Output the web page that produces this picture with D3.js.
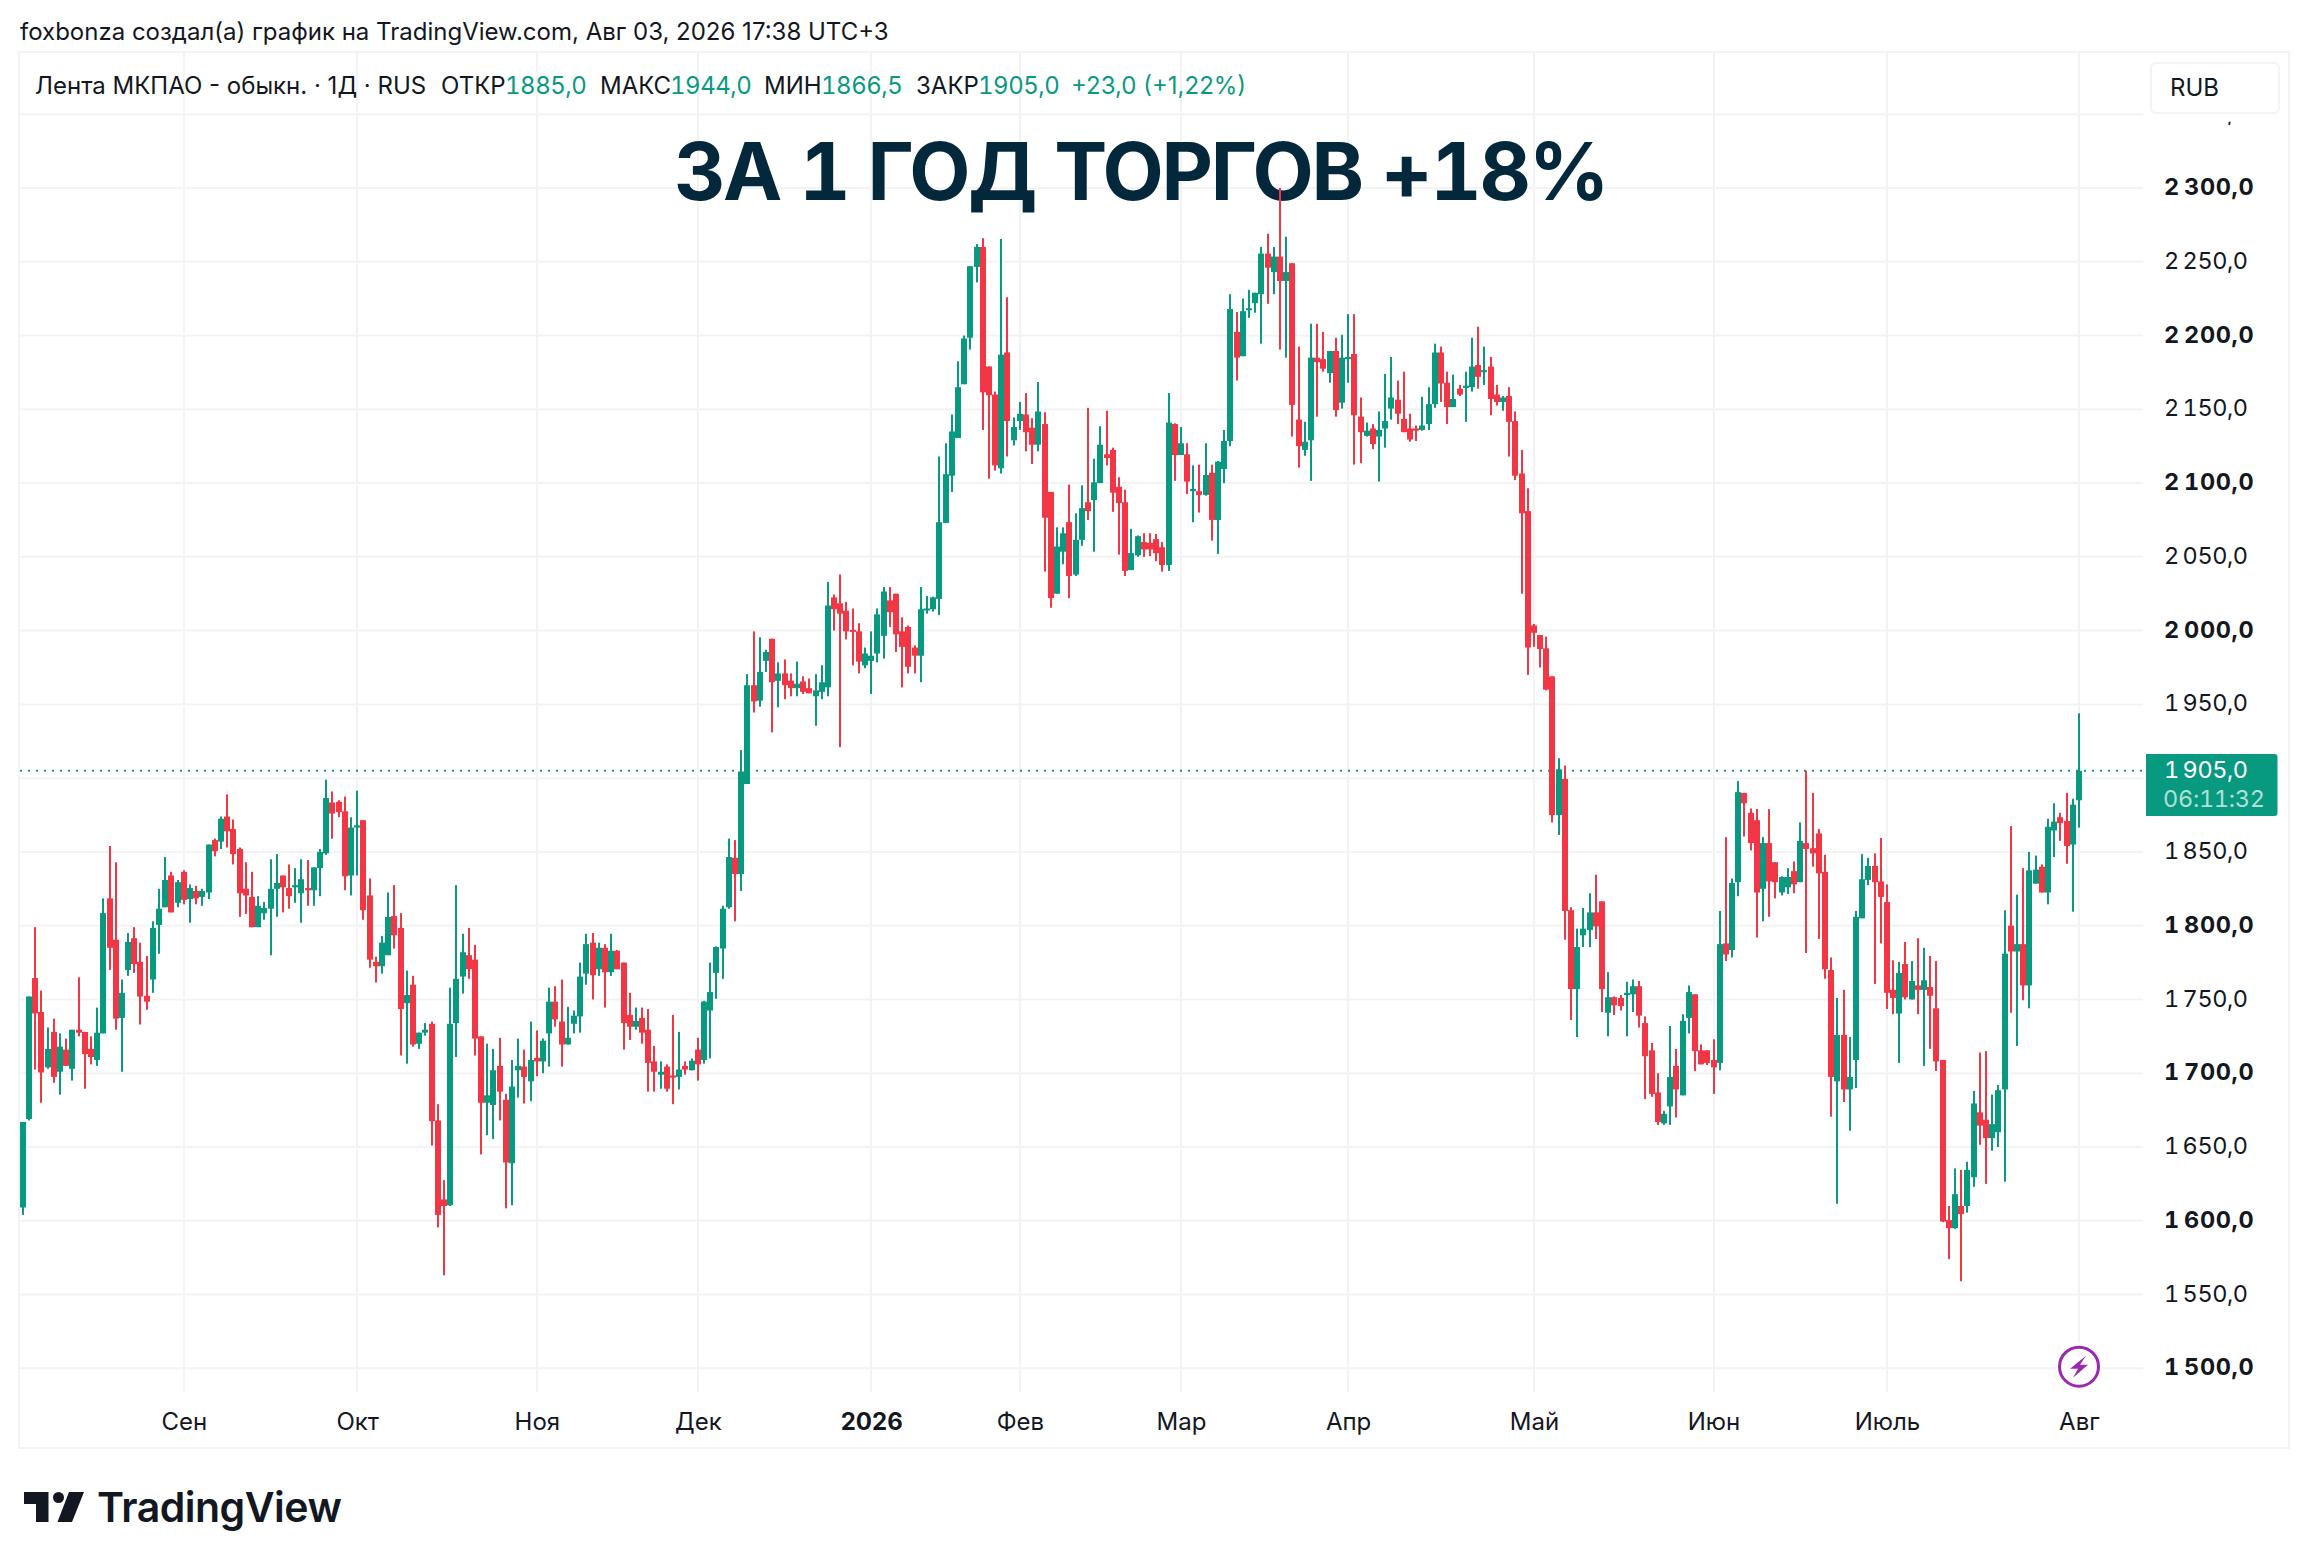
<!DOCTYPE html>
<html>
<head>
<meta charset="utf-8">
<script src="https://cdnjs.cloudflare.com/ajax/libs/d3/7.8.5/d3.min.js"></script>
<style>
html, body { margin: 0; padding: 0; background: #fff; }
svg { display: block; }
text { font-family: Inter, "Noto Sans", sans-serif; fill: #131722; }
.axis text { font-size: 24px; }
.price text, .tag { font-size: 23.5px; font-variant-numeric: tabular-nums; }
.up { fill: #089981; }
.down { fill: #F23645; }
</style>
</head>
<body>
<script>
// daily bars per month, each row is [open, high, low, close]
const aug25 = [
  [1609,1667,1604,1667],[1669,1752,1668,1752],[1764.5,1799,1702.5,1740.5],[1741.5,1756,1680,1700.5],[1704,1731,1703,1716.5],
  [1728,1737,1693.5,1697.5],[1701,1727,1685.5,1718],[1716,1723.5,1705,1705],[1703,1729.5,1695,1729.5],[1729.5,1765,1725,1727.5],
  [1728,1728,1689.5,1713],[1716.5,1725,1706,1711],[1709,1744.5,1705,1727.5],[1727,1818.5,1727,1808.5],[1818.5,1854,1770,1785],
  [1790.5,1843,1729.5,1737],[1737.5,1763.5,1701,1754.5],[1770,1795,1766,1789],[1791.5,1799,1768,1774],[1775.5,1788.5,1733,1752],
  [1752.5,1779.5,1743,1748.5],[1763.5,1803,1754.5,1798.5],[1800.5,1825,1781,1811.5],[1812.5,1846.5,1812.5,1831],[1834,1836.5,1809,1809],
  [1815.5,1831,1812.5,1829.5]
];
const sep25 = [
  [1836.5,1837.5,1814.5,1817.5],[1818,1828,1802,1825.5],[1823.5,1827,1814.5,1818.5],[1819.5,1825,1813.5,1823.5],[1822.5,1855,1818,1855],
  [1858,1859,1847,1850.5],[1857,1874,1852,1872.5],[1874,1889,1853,1864],[1865.5,1872,1841.5,1848.5],[1852,1853,1806,1822],
  [1825,1843,1808,1820.5],[1819.5,1836.5,1799,1799],[1799,1820,1799,1813.5],[1808.5,1816,1804,1812],[1811.5,1845,1780,1825],
  [1825,1848.5,1806,1829],[1834,1834,1809,1826],[1825.5,1841.5,1811.5,1820],[1826,1839,1815.5,1827.5],[1822,1845,1802,1831.5],
  [1825.5,1844.5,1813.5,1824],[1824,1839.5,1813.5,1839.5],[1839,1852,1820,1850],[1849,1899,1848,1886.5],[1883.5,1891,1859,1876],
  [1884,1885,1873.5,1877],[1877.5,1887.5,1824,1833.5],[1834,1873.5,1820.5,1866.5]
];
const oct25 = [
  [1866.5,1891.5,1834,1868],[1871.5,1871.5,1804,1810.5],[1820.5,1832,1771.5,1777],[1775.5,1779,1761.5,1772.5],[1772.5,1793,1767.5,1788.5],
  [1780,1822.5,1780,1806],[1806.5,1827.5,1784.5,1793.5],[1798.5,1808.5,1712,1743.5],[1747.5,1769.5,1706.5,1753],[1760,1766,1718,1719.5],
  [1720,1727.5,1716.5,1727.5],[1727.5,1734,1725.5,1729.5],[1733.5,1735,1651,1667.5],[1668,1679,1595.5,1604],[1614.5,1627.5,1563,1610],
  [1610.5,1758,1610,1733.5],[1734,1827.5,1711,1764],[1765.5,1794.5,1754,1782],[1780,1798.5,1764,1770.5],[1777,1787,1712,1723.5],
  [1725,1725,1645,1680],[1680,1720,1658,1685],[1678.5,1716.5,1655.5,1702],[1705,1724,1668,1687.5],[1682,1686,1608.5,1639.5],
  [1639,1709,1610.5,1691],[1702,1723.5,1683.5,1705],[1704.5,1716,1679.5,1697.5],[1694.5,1735,1681,1709]
];
const nov25 = [
  [1710.5,1729,1698,1708],[1708,1723.5,1700,1722],[1727,1758,1704.5,1748.5],[1748.5,1759,1731.5,1736.5],[1735,1763.5,1704.5,1719.5],
  [1719.5,1745,1719.5,1724],[1733.5,1742.5,1727,1739],[1738.5,1775,1727.5,1765.5],[1767.5,1794.5,1760,1787.5],[1788.5,1795,1750,1766.5],
  [1770.5,1788.5,1766,1785],[1785,1787.5,1744.5,1768.5],[1768.5,1794.5,1766,1783],[1783,1783.5,1770.5,1770.5],[1775,1775,1716,1734],
  [1739.5,1754.5,1722.5,1731.5],[1731.5,1744.5,1729.5,1735.5],[1737.5,1744.5,1720,1727.5],[1729.5,1743.5,1687.5,1707],[1708,1718.5,1687.5,1701],
  [1699,1708,1689.5,1701],[1704.5,1706,1687.5,1689.5],[1698.5,1739.5,1679,1697],[1697.5,1728,1689,1702.5],[1705,1708,1699,1702.5],
  [1702,1710,1702,1708.5]
];
const dec25 = [
  [1716,1724,1695,1706],[1709,1749,1706.5,1748.5],[1742.5,1775,1710,1755],[1768,1786,1750.5,1785.5],[1784.5,1813.5,1764,1811.5],
  [1812.5,1859,1811.5,1846.5],[1846,1858,1803,1835],[1835,1919,1823.5,1904.5],[1896,1970.5,1896,1963],[1963,1999.5,1944.5,1952],
  [1952.5,1995.5,1948.5,1972],[1979.5,1987,1972,1985.5],[1994.5,1994.5,1931,1965],[1966,1978.5,1948,1971],[1971,1980.5,1953.5,1963],
  [1966,1971,1955.5,1961],[1961,1979,1955.5,1964],[1965.5,1969,1957,1958.5],[1961,1967.5,1957.5,1957.5],[1955.5,1970.5,1935.5,1959.5],
  [1958.5,1976.5,1953.5,1965],[1961.5,2033,1955.5,2017],[2022.5,2024.5,2000,2014.5],[2018.5,2038,1921,2011.5],[2013.5,2019.5,1994,1999.5],
  [2000.5,2015,1976.5,1999.5],[1999.5,2005,1971,1979],[1976.5,1988.5,1974.5,1984.5]
];
const jan26 = [
  [1979.5,1999.5,1957,1983],[1984.5,2015,1978.5,2011],[1996.5,2029.5,1981,2026.5],[2020.5,2029.5,2002.5,2012.5],[2025,2025,1985.5,1997.5],
  [1999.5,2009,1961.5,1989],[2002.5,2003.5,1971,1975.5],[1988.5,1990,1971,1983],[1983,2029.5,1965,2014.5],[2014.5,2023.5,2011.5,2015],
  [2014.5,2023,2013,2022.5],[2021.5,2118,2010.5,2073.5],[2073,2127,2073,2106],[2105,2146.5,2094,2135],[2130.5,2182.5,2130.5,2165],
  [2167,2200,2167,2198],[2198.5,2247,2190.5,2247],[2246.5,2262,2236,2260],[2260,2266,2136,2161.5],[2179,2179,2103,2159.5],
  [2160,2162,2108.5,2112],[2110,2265.5,2106.5,2187],[2188.5,2226,2118,2142],[2129,2144.5,2125.5,2138]
];
const feb26 = [
  [2142,2155,2136,2147],[2146.5,2161,2121.5,2134.5],[2137.5,2144,2113,2126],[2126,2168.5,2121.5,2148.5],[2140,2148,2040,2076.5],
  [2094,2094,2015.5,2022],[2025,2070,2025,2057],[2053.5,2070,2045,2066],[2073.5,2099,2022,2037],[2038,2079.5,2037,2061.5],
  [2061.5,2098.5,2057.5,2083],[2087,2151,2075,2081],[2088.5,2116.5,2053.5,2100.5],[2100,2138.5,2100,2126],[2119.5,2149,2112,2117],
  [2122.5,2124,2080.5,2093.5],[2097.5,2104,2051.5,2086.5],[2087,2095.5,2037,2040.5],[2041,2069,2041,2052.5],[2051,2064.5,2050,2064],
  [2060,2066,2050,2055],[2059.5,2066,2050.5,2055],[2062,2065.5,2047,2052.5],[2056.5,2060,2040,2044.5],[2044.5,2161,2040.5,2141],
  [2140,2140.5,2101.5,2119]
];
const mar26 = [
  [2119,2138,2119,2127],[2119.5,2127,2092.5,2101],[2094.5,2112,2073.5,2096],[2094.5,2112.5,2080,2092],[2092,2127,2091.5,2105.5],
  [2107,2112.5,2061,2075],[2075,2115,2052,2114.5],[2109.5,2136,2100,2128.5],[2128.5,2228,2125,2218],[2202.5,2216,2169.5,2185],
  [2186,2225,2186,2216.5],[2218,2231,2212,2218.5],[2222,2229,2215.5,2229],[2228,2260,2194.5,2255.5],[2255.5,2269,2221.5,2246],
  [2243,2260,2228,2253.5],[2253.5,2300,2190.5,2237],[2237,2267,2185,2243],[2249,2249,2131.5,2153],[2143,2192.5,2110.5,2125],
  [2122.5,2141.5,2118.5,2128],[2129,2208,2101.5,2185],[2185,2208,2145,2182],[2184,2202.5,2175.5,2177.5],[2174.5,2189.5,2168,2189.5],
  [2189.5,2198.5,2145,2149.5],[2154.5,2200.5,2150.5,2185]
];
const apr26 = [
  [2184,2214.5,2168,2185.5],[2187.5,2214.5,2112.5,2146],[2145,2158,2113.5,2134.5],[2132,2141,2131.5,2135.5],[2137,2140,2123,2126.5],
  [2131.5,2148.5,2101,2136],[2137,2174,2124,2142],[2150.5,2185.5,2143,2158],[2156.5,2169.5,2140,2147],[2143.5,2175.5,2134.5,2134.5],
  [2137,2147,2128,2129.5],[2137,2139,2128.5,2135.5],[2136,2158.5,2135.5,2139],[2140,2165,2136,2153.5],[2153.5,2194.5,2151,2188.5],
  [2188.5,2192.5,2155,2167.5],[2168,2175.5,2140,2151.5],[2151.5,2173.5,2151.5,2157],[2164,2166.5,2159,2160],[2164.5,2175.5,2141.5,2166],
  [2165,2198.5,2162,2179],[2180,2206,2164,2172],[2175.5,2192.5,2166.5,2176.5],[2179,2185.5,2146,2157],[2160,2166.5,2152.5,2155],
  [2155,2159,2149,2158],[2159,2165,2118,2141.5],[2142,2148.5,2102,2105],[2106.5,2122.5,2025,2079.5],[2081,2096.5,1970,1988.5]
];
const may26 = [
  [2003.5,2004.5,1989,1998.5],[1997,1997,1975,1987.5],[1988,1996,1959.5,1960],[1969,1969,1870,1875],[1875,1913.5,1861.5,1906],
  [1899.5,1908.5,1790.5,1810],[1810.5,1812.5,1736,1757],[1757,1798,1724.5,1785.5],[1793.5,1812,1785.5,1798],[1797,1822,1785.5,1809],
  [1809,1834.5,1791,1799.5],[1816.5,1816.5,1741.5,1757],[1741,1768.5,1725,1751.5],[1751.5,1752,1739.5,1746],[1751,1753,1742.5,1745.5],
  [1753,1762,1725,1754.5],[1753.5,1763.5,1741.5,1759],[1759,1762.5,1731,1739],[1734,1738.5,1682.5,1711.5],[1715.5,1720.5,1684,1686],
  [1687,1700,1665,1667],[1666,1674.5,1665,1672.5],[1677.5,1732,1665,1697.5],[1705,1716.5,1670,1689],[1685,1740,1685,1735.5],
  [1737.5,1759.5,1727,1755],[1753.5,1753.5,1701.5,1715],[1715.5,1719.5,1706,1706],[1715.5,1715.5,1705.5,1707]
];
const jun26 = [
  [1709,1723,1686,1704],[1707,1810,1702,1787.5],[1788,1860,1776,1780.5],[1783.5,1832,1778.5,1829],[1829.5,1898,1820,1890.5],
  [1890,1890,1860.5,1883],[1876.5,1879.5,1851,1856],[1871.5,1879,1792,1822.5],[1825,1860,1803,1856],[1856,1879,1806,1830],
  [1843,1843,1818.5,1829.5],[1822.5,1833.5,1820.5,1833],[1826,1839,1821.5,1833],[1837,1843.5,1822,1828],[1829.5,1870,1829.5,1857.5],
  [1856,1905,1781.5,1852],[1852.5,1890,1840,1849],[1862.5,1865.5,1791,1835.5],[1836.5,1848,1764,1770.5],[1770,1778.5,1670.5,1697.5],
  [1694.5,1751,1611.5,1726],[1726,1756.5,1680.5,1689],[1689,1724.5,1661,1697.5],[1709,1810,1690,1806],[1805,1848.5,1805,1831.5],
  [1831,1846,1827.5,1840.5],[1840.5,1849,1760.5,1829.5],[1830,1859.5,1788,1819.5]
];
const jul26 = [
  [1816,1828,1743.5,1754.5],[1756.5,1776.5,1740,1751],[1740.5,1775.5,1707,1768],[1774,1789,1750,1751.5],[1750,1776,1750,1762.5],
  [1759.5,1791.5,1740,1756.5],[1756.5,1785,1705,1763],[1758.5,1779.5,1716.5,1752.5],[1744,1776,1701.5,1708],[1709,1709,1599,1599.5],
  [1600.5,1610,1574,1595],[1595,1635.5,1594.5,1618],[1610,1634.5,1559,1604.5],[1610,1640,1605.5,1634.5],[1629.5,1688,1623,1679.5],
  [1673.5,1714,1651.5,1664.5],[1668.5,1715,1625,1656],[1656,1685.5,1647.5,1665.5],[1660,1692,1650,1688.5],[1689,1810.5,1626.5,1781],
  [1800,1867.5,1741,1782.5],[1782.5,1821,1718.5,1787.5],[1787.5,1839,1749.5,1759.5],[1759.5,1850,1744,1837.5],[1828.5,1847.5,1828.5,1838],
  [1840,1841.5,1822.5,1822.5],[1822.5,1872.5,1814.5,1867],[1864.5,1883,1846.5,1870.5],[1873.5,1876.5,1857.5,1869.5],[1871,1890,1842,1854],
  [1855,1886,1809.5,1882]
];
const aug26 = [[1885,1944,1866.5,1905]];

// the months in chart order and the text on the time axis for the first bar of each
const months = [aug25, sep25, oct25, nov25, dec25, jan26, feb26, mar26, apr26, may26, jun26, jul26, aug26];
const monthLabels = [null, 'Сен', 'Окт', 'Ноя', 'Дек', '2026', 'Фев', 'Мар', 'Апр', 'Май', 'Июн', 'Июль', 'Авг'];

const priceTicks = [1500, 1550, 1600, 1650, 1700, 1750, 1800, 1850, 1900, 1950, 2000, 2050, 2100, 2150, 2200, 2250, 2300, 2350];
const lastPrice = 1905;
const countdown = '06:11:32';
const chartTitle = 'ЗА 1 ГОД ТОРГОВ +18%';
const caption = 'foxbonza создал(а) график на TradingView.com, Авг 03, 2026 17:38 UTC+3';
const legendParts = [
  ['Лента МКПАО - обыкн. · 1Д · RUS', 35, '#131722', false],
  ['ОТКР', 441, '#131722', false], ['1885,0', 505, '#089981', true],
  ['МАКС', 600, '#131722', false], ['1944,0', 670, '#089981', true],
  ['МИН', 764, '#131722', false], ['1866,5', 821, '#089981', true],
  ['ЗАКР', 916, '#131722', false], ['1905,0', 978, '#089981', true],
  ['+23,0 (+1,22%)', 1071, '#089981', false]
];

const bars = months.flat().map(function(d, i) {
  return {i: i, open: d[0], high: d[1], low: d[2], close: d[3]};
});

// first bar of each month carries the axis tick
let tickBars = [];
let labelByBar = {};
let count = 0;
months.forEach(function(m, k) {
  if (monthLabels[k]) {
    tickBars.push(count);
    labelByBar[count] = monthLabels[k];
  }
  count += m.length;
});

const width = 2308, height = 1568;
const pane = {left: 20, top: 53, right: 2288, bottom: 1447, plotRight: 2143, plotBottom: 1392};
const barWidth = 6, wickWidth = 2;

const svg = d3.select('body').append('svg')
  .attr('width', width)
  .attr('height', height);

const x = d3.scaleLinear().domain([0, bars.length - 1]).range([22.8, 2078.9]);
const y = d3.scaleLinear().domain([1500, 2300]).range([1368.3, 188]);

const priceFormat = d3.formatLocale({decimal: ',', thousands: '\u2009', grouping: [3], currency: ['', '']}).format(',.1f');

// frame around the chart
svg.append('rect')
  .attr('x', pane.left - 1).attr('y', pane.top - 1)
  .attr('width', pane.right - pane.left + 2).attr('height', pane.bottom - pane.top + 2)
  .attr('fill', 'none').attr('stroke', '#f3f3f4').attr('stroke-width', 2);

// grid
let grid = svg.append('g').attr('stroke', '#f3f3f4').attr('stroke-width', 2);
grid.selectAll('.h').data(priceTicks).enter().append('line')
  .attr('x1', pane.left).attr('x2', pane.plotRight)
  .attr('y1', d => y(d)).attr('y2', d => y(d));
grid.selectAll('.v').data(tickBars).enter().append('line')
  .attr('x1', d => Math.round(x(d))).attr('x2', d => Math.round(x(d)))
  .attr('y1', pane.top).attr('y2', pane.plotBottom);

// big title goes under the candles, the tall March wick runs over it
svg.append('text')
  .attr('x', 1140.5).attr('y', 200)
  .attr('text-anchor', 'middle')
  .style('font-weight', 700)
  .style('font-size', '79.5px')
  .style('letter-spacing', '-2.2px')
  .style('font-variant-numeric', 'tabular-nums')
  .style('fill', '#03273b')
  .text(chartTitle);

// dotted last price line
svg.append('line')
  .attr('x1', pane.left).attr('x2', pane.plotRight)
  .attr('y1', y(lastPrice)).attr('y2', y(lastPrice))
  .attr('stroke', '#089981').attr('stroke-width', 2)
  .attr('stroke-dasharray', '2 6');

// candles, snapped to whole pixels like the original renderer
let candles = svg.append('g').attr('class', 'candles')
  .selectAll('g').data(bars).enter().append('g')
  .attr('class', d => d.close >= d.open ? 'up' : 'down');
candles.append('rect')
  .attr('x', d => Math.round(x(d.i)) - wickWidth / 2)
  .attr('width', wickWidth)
  .attr('y', d => y(d.high))
  .attr('height', d => y(d.low) - y(d.high));
candles.append('rect')
  .attr('x', d => Math.round(x(d.i)) - barWidth / 2)
  .attr('width', barWidth)
  .attr('y', d => y(Math.max(d.open, d.close)))
  .attr('height', d => Math.max(2, Math.abs(y(d.open) - y(d.close))));

// price axis, the 1 900,0 label sits behind the last price tag so it is left out
let yAxis = svg.append('g')
  .attr('class', 'axis price')
  .attr('transform', 'translate(2164,0)')
  .call(d3.axisRight(y).tickValues(priceTicks.filter(d => d != 1900)).tickSize(0).tickPadding(0).tickFormat(priceFormat));
yAxis.select('.domain').remove();
yAxis.selectAll('text')
  .style('font-weight', d => d % 100 == 0 ? 700 : 400)
  .style('letter-spacing', d => d % 100 == 0 ? '0.6px' : '-0.45px')
  .attr('dy', '0.28em');
// only the comma of 2 350,0 shows below the currency button
svg.append('clipPath').attr('id', 'below-button').append('rect')
  .attr('x', -10).attr('y', 7).attr('width', 130).attr('height', 20);
yAxis.selectAll('.tick').filter(d => d == 2350).attr('clip-path', 'url(#below-button)');

// time axis
let xAxis = svg.append('g')
  .attr('class', 'axis')
  .attr('transform', 'translate(0,1411)')
  .call(d3.axisBottom(x).tickValues(tickBars).tickSize(0).tickPadding(0).tickFormat(d => labelByBar[d]));
xAxis.select('.domain').remove();
xAxis.selectAll('text')
  .style('font-weight', d => labelByBar[d] == '2026' ? 700 : 400)
  .attr('y', 0).attr('dy', '0.78em');

// last price tag
svg.append('path')
  .attr('d', 'M2146 754H2274.5a3 3 0 0 1 3 3V813a3 3 0 0 1 -3 3H2146Z')
  .attr('fill', '#089981');
svg.append('text')
  .attr('class', 'tag').attr('x', 2164).attr('y', 777.5)
  .style('letter-spacing', '-0.45px')
  .style('fill', '#fff')
  .text(priceFormat(lastPrice));
svg.append('text')
  .attr('class', 'tag').attr('x', 2163).attr('y', 806.5)
  .style('letter-spacing', '-0.3px')
  .style('fill', '#fff').style('fill-opacity', 0.7)
  .text(countdown);

// currency button
svg.append('rect')
  .attr('x', 2151).attr('y', 63).attr('width', 128).attr('height', 50).attr('rx', 5)
  .attr('fill', '#fff').attr('stroke', '#f3f3f4').attr('stroke-width', 2);
svg.append('text')
  .attr('x', 2170).attr('y', 96)
  .style('font-size', '24px')
  .text('RUB');

// caption and legend
svg.append('text')
  .attr('x', 20).attr('y', 40)
  .style('font-size', '24px')
  .text(caption);
svg.append('g').selectAll('text').data(legendParts).enter().append('text')
  .attr('x', d => d[1]).attr('y', 94)
  .style('font-size', '24px')
  .style('fill', d => d[2])
  .style('font-variant-numeric', d => d[3] ? 'tabular-nums' : 'normal')
  .style('letter-spacing', d => d[3] ? '-0.5px' : '0')
  .text(d => d[0]);

// lightning badge on the last bar
let badge = svg.append('g').attr('transform', 'translate(2079,1366.7)');
badge.append('circle').attr('r', 24).attr('fill', '#fff');
badge.append('circle').attr('r', 19.5).attr('fill', '#fff')
  .attr('stroke', '#9c27b0').attr('stroke-width', 3);
badge.append('path')
  .attr('d', 'M7 -11 L-9 2 L-1 2 L-6 11 L9 -2 L1 -2 Z')
  .attr('fill', '#9c27b0');

// TradingView logo
let logo = svg.append('g').attr('fill', '#131722');
logo.append('path').attr('d', 'M24 1492H48.5V1522H36V1504H24Z');
logo.append('circle').attr('cx', 58.5).attr('cy', 1497.5).attr('r', 5.5);
logo.append('path').attr('d', 'M69 1492H84L72 1522H57.5Z');
svg.append('text')
  .attr('x', 97).attr('y', 1522)
  .style('font-size', '41px').style('font-weight', 600).style('letter-spacing', '-0.5px')
  .text('TradingView');
</script>
</body>
</html>
